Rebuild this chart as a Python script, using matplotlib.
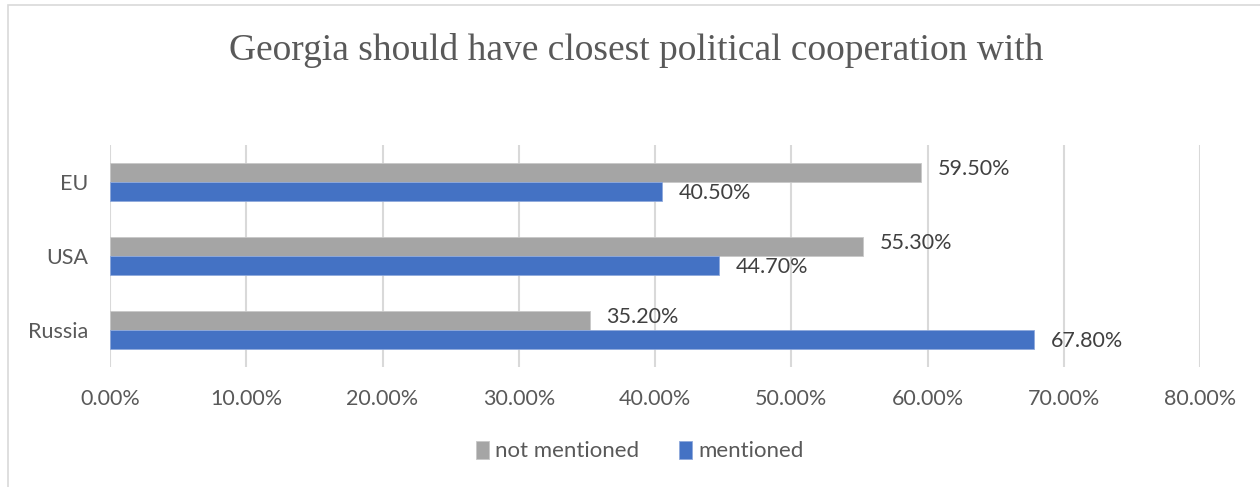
"""Horizontal bar chart of preferred political partners."""

import matplotlib.pyplot as plt
from matplotlib.patches import Rectangle
from matplotlib.ticker import FuncFormatter

countries = ["EU", "USA", "Russia"]
not_mentioned = [59.5, 55.3, 35.2]
mentioned = [40.5, 44.7, 67.8]
x_ticks = [0, 10, 20, 30, 40, 50, 60, 70, 80]

GRAY = "#A5A5A5"
BLUE = "#4472C4"
TEXT = "#595959"
LABEL = "#404040"

plt.rcParams["font.family"] = ["Lato", "DejaVu Sans"]

fig = plt.figure(figsize=(12.6, 4.87), dpi=100)

# light chart border
fig.patches.append(
    Rectangle((8 / 1260, -0.1), 1.2, 1 - 5 / 487 + 0.1, transform=fig.transFigure,
              fill=False, edgecolor="#D9D9D9", linewidth=1.2)
)

ax = fig.add_axes([110 / 1260, 1 - 367 / 487, 1090 / 1260, 222 / 487])

pos = list(range(len(countries)))
height = 0.263
ax.barh([p - height / 2 for p in pos], not_mentioned, height, color=GRAY,
        edgecolor="#C8C8C8", linewidth=0.6, label="not mentioned", zorder=2)
ax.barh([p + height / 2 for p in pos], mentioned, height, color=BLUE,
        edgecolor="#8FA9DC", linewidth=0.6, label="mentioned", zorder=2)

for p, v in zip(pos, not_mentioned):
    ax.annotate(f"{v:.2f}%", (v, p - height / 2), xytext=(12, 2),
                textcoords="offset points", va="center", ha="left",
                fontsize=15.5, color=LABEL)
for p, v in zip(pos, mentioned):
    ax.annotate(f"{v:.2f}%", (v, p + height / 2), xytext=(12, -1),
                textcoords="offset points", va="center", ha="left",
                fontsize=15.5, color=LABEL)

ax.set_xlim(0, 80)
ax.set_ylim(2.5, -0.5)
ax.set_xticks(x_ticks)
ax.xaxis.set_major_formatter(FuncFormatter(lambda x, _: f"{x:.2f}%"))
ax.set_yticks(pos)
ax.set_yticklabels(countries)
ax.tick_params(axis="both", length=0, labelsize=15.5, labelcolor=TEXT)
ax.tick_params(axis="x", pad=15.5)
ax.tick_params(axis="y", pad=16)
ax.grid(axis="x", color="#D9D9D9", linewidth=1.5, zorder=0)
for s in ax.spines.values():
    s.set_visible(False)

fig.text(0.505, 1 - 50 / 487, "Georgia should have closest political cooperation with",
         ha="center", va="center", family="Liberation Serif", fontsize=27,
         color=TEXT)

fig.legend(loc="center", bbox_to_anchor=(0.508, 1 - 451 / 487), ncol=2,
           frameon=False, fontsize=16, labelcolor=TEXT, handlelength=0.55,
           handleheight=0.9, handletextpad=0.3, columnspacing=1.8)

fig.savefig("out.png", dpi=100)
